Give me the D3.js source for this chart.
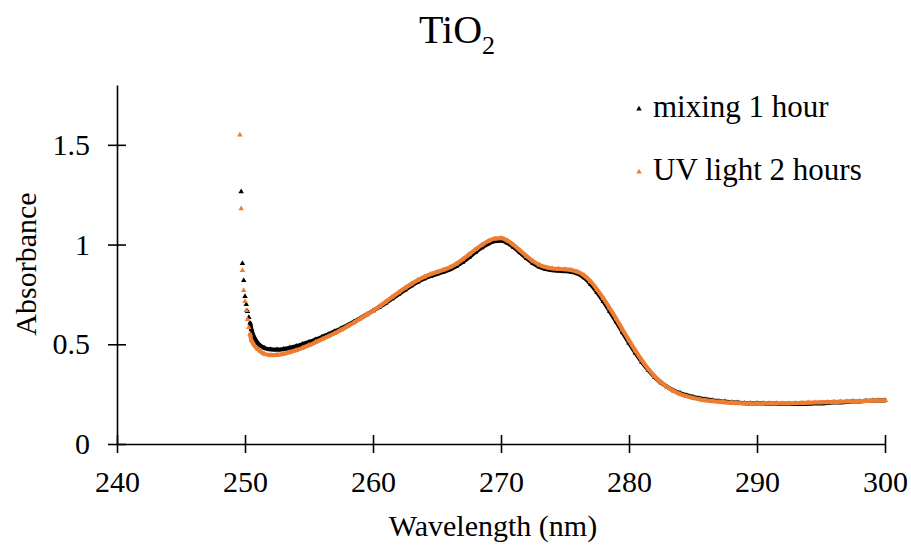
<!DOCTYPE html>
<html>
<head>
    <meta charset="utf-8">
    <title>TiO2 absorbance</title>
    <script src="https://d3js.org/d3.v7.min.js" charset="utf-8"></script>
    <style>
        html, body { margin: 0; padding: 0; background: #fff; }
        text { font-family: "Liberation Serif", "Times New Roman", serif; fill: #000; }
    </style>
</head>
<body>
<script>
// wavelength (nm) of each reading
const wavelength = [249.6, 249.7, 249.8, 249.9, 250.0, 250.1, 250.2, 250.3, 250.4, 250.5,
    251, 251.5, 252, 252.5, 253, 253.5, 254, 254.5, 255, 255.5,
    256, 256.5, 257, 257.5, 258, 258.5, 259, 259.5, 260, 260.5,
    261, 261.5, 262, 262.5, 263, 263.5, 264, 264.5, 265, 265.5,
    266, 266.5, 267, 267.5, 268, 268.5, 269, 269.5, 270, 270.5,
    271, 271.5, 272, 272.5, 273, 273.5, 274, 274.5, 275, 275.5,
    276, 276.5, 277, 277.5, 278, 278.5, 279, 279.5, 280, 280.5,
    281, 281.5, 282, 282.5, 283, 283.5, 284, 284.5, 285, 285.5,
    286, 286.5, 287, 287.5, 288, 288.5, 289, 289.5, 290, 290.5,
    291, 291.5, 292, 292.5, 293, 293.5, 294, 294.5, 295, 295.5,
    296, 296.5, 297, 297.5, 298, 298.5, 299, 299.5, 300];

// absorbance, mixing 1 hour
const mixing1h = [null, 1.265, 0.905, 0.82, 0.74, 0.70, 0.665, 0.635, 0.605, 0.575,
    0.505, 0.482, 0.474, 0.473, 0.476, 0.482, 0.49, 0.5, 0.511, 0.523,
    0.536, 0.55, 0.564, 0.579, 0.595, 0.612, 0.63, 0.649, 0.668, 0.687,
    0.707, 0.729, 0.751, 0.773, 0.794, 0.813, 0.829, 0.842, 0.853, 0.863,
    0.875, 0.891, 0.912, 0.936, 0.962, 0.985, 1.004, 1.017, 1.019, 1.008,
    0.986, 0.959, 0.931, 0.906, 0.888, 0.877, 0.871, 0.869, 0.867, 0.863,
    0.854, 0.834, 0.802, 0.761, 0.715, 0.665, 0.613, 0.56, 0.507, 0.457,
    0.411, 0.371, 0.336, 0.308, 0.286, 0.268, 0.255, 0.244, 0.236, 0.229,
    0.224, 0.219, 0.215, 0.212, 0.209, 0.207, 0.205, 0.204, 0.204, 0.203,
    0.202, 0.202, 0.201, 0.201, 0.201, 0.201, 0.202, 0.203, 0.204, 0.206,
    0.208, 0.209, 0.211, 0.213, 0.214, 0.216, 0.217, 0.218, 0.219];

// absorbance, UV light 2 hours
const uvLight2h = [1.55, 1.18, 0.87, 0.77, 0.715, 0.67, 0.625, 0.585, 0.55, 0.52,
    0.475, 0.452, 0.446, 0.447, 0.452, 0.46, 0.47, 0.482, 0.495, 0.51,
    0.525, 0.54, 0.555, 0.572, 0.59, 0.608, 0.628, 0.648, 0.668, 0.69,
    0.713, 0.737, 0.76, 0.782, 0.803, 0.822, 0.838, 0.851, 0.862, 0.873,
    0.886, 0.903, 0.925, 0.95, 0.975, 0.998, 1.017, 1.03, 1.032, 1.02,
    0.997, 0.97, 0.942, 0.917, 0.898, 0.886, 0.88, 0.878, 0.876, 0.872,
    0.863, 0.845, 0.815, 0.775, 0.73, 0.68, 0.628, 0.573, 0.52, 0.468,
    0.42, 0.377, 0.34, 0.31, 0.285, 0.265, 0.25, 0.239, 0.231, 0.224,
    0.219, 0.215, 0.212, 0.209, 0.207, 0.205, 0.204, 0.203, 0.203, 0.203,
    0.203, 0.203, 0.204, 0.204, 0.205, 0.206, 0.207, 0.208, 0.209, 0.21,
    0.211, 0.212, 0.213, 0.214, 0.215, 0.216, 0.217, 0.218, 0.219];

const seriesNames = ["mixing 1 hour", "UV light 2 hours"];
const seriesColors = ["#000000", "#ED7D31"];
const xTicks = [240, 250, 260, 270, 280, 290, 300];
const yTicks = [0, 0.5, 1, 1.5];

const width = 911;
const height = 549;
const margin = {top: 85, right: 26, bottom: 105, left: 117};
const serif = "'Liberation Serif', 'Times New Roman', serif";

const svg = d3.select("body").append("svg")
    .attr("width", width)
    .attr("height", height);

const x = d3.scaleLinear().domain([240, 300]).range([margin.left, width - margin.right]);
const y = d3.scaleLinear().domain([0, 1.8]).range([height - margin.bottom, margin.top]);

// axes, ticks cross the axis line
const xAxis = svg.append("g")
    .attr("transform", `translate(0,${y(0)})`)
    .call(d3.axisBottom(x).tickValues(xTicks).tickSizeOuter(0).tickFormat(d3.format("d")));
xAxis.selectAll(".tick line").attr("y1", -9).attr("y2", 9);
xAxis.selectAll(".tick text").attr("y", 27).attr("font-size", 30);

const yAxis = svg.append("g")
    .attr("transform", `translate(${x(240)},0)`)
    .call(d3.axisLeft(y).tickValues(yTicks).tickSizeOuter(0).tickFormat(d => String(d)));
yAxis.selectAll(".tick line").attr("x1", -9).attr("x2", 9);
yAxis.selectAll(".tick text").attr("x", -27).attr("font-size", 30);

svg.selectAll(".domain, .tick line").attr("stroke", "#000").attr("stroke-width", 1.6);
svg.selectAll(".tick text").style("font-family", serif).attr("fill", "#000");

// series: dense markers look like a thick band, so draw band + triangles
const seriesData = [mixing1h, uvLight2h];
const tri = d3.symbol().type(d3.symbolTriangle).size(13);

seriesData.forEach(function (vals, i) {
    const pts = wavelength.map((w, j) => ({w: w, v: vals[j]})).filter(d => d.v != null);
    const line = d3.line()
        .x(d => x(d.w))
        .y(d => y(d.v))
        .curve(d3.curveMonotoneX);
    svg.append("path")
        .datum(pts.filter(d => d.w >= 250.4))
        .attr("d", line)
        .attr("fill", "none")
        .attr("stroke", seriesColors[i])
        .attr("stroke-width", 4.2)
        .attr("stroke-linecap", "round");
    svg.append("g").selectAll("path")
        .data(pts)
        .enter().append("path")
        .attr("d", tri)
        .attr("transform", d => `translate(${x(d.w)},${y(d.v)})`)
        .attr("fill", seriesColors[i]);
});

// legend
const legendBase = [117, 180];
seriesNames.forEach(function (name, i) {
    svg.append("path")
        .attr("d", tri)
        .attr("transform", `translate(639,${legendBase[i] - 8})`)
        .attr("fill", seriesColors[i]);
    svg.append("text")
        .attr("x", 653)
        .attr("y", legendBase[i])
        .attr("font-size", 31)
        .style("font-family", serif)
        .text(name);
});

// title with subscript
const title = svg.append("text")
    .attr("x", 457)
    .attr("y", 43)
    .attr("text-anchor", "middle")
    .attr("font-size", 40)
    .style("font-family", serif);
title.append("tspan").text("TiO");
title.append("tspan").attr("font-size", 26).attr("dy", 11).text("2");

// axis titles
svg.append("text")
    .attr("x", 493)
    .attr("y", 536)
    .attr("text-anchor", "middle")
    .attr("font-size", 30)
    .style("font-family", serif)
    .text("Wavelength (nm)");

svg.append("text")
    .attr("transform", "translate(36,264) rotate(-90)")
    .attr("text-anchor", "middle")
    .attr("font-size", 30)
    .style("font-family", serif)
    .text("Absorbance");
</script>
</body>
</html>
